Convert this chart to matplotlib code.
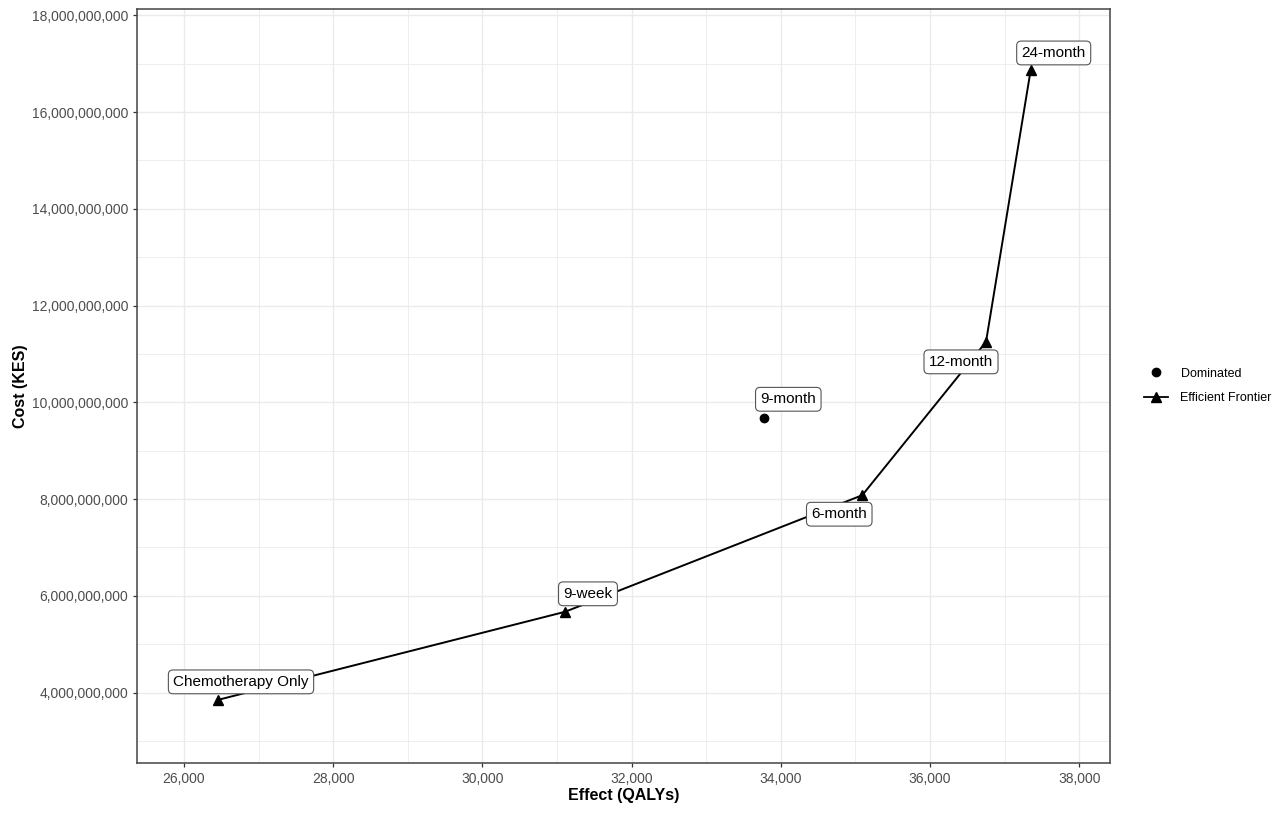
import matplotlib
matplotlib.use("Agg")
import matplotlib.pyplot as plt
from matplotlib.lines import Line2D
from matplotlib.ticker import FuncFormatter, MultipleLocator

plt.rcParams['font.family'] = ['Liberation Sans', 'DejaVu Sans']

# Data
strategies = ["Chemotherapy Only", "9-week", "9-month", "6-month", "12-month", "24-month"]
effect = [26456, 31107, 33779, 35092, 36751, 37350]
cost = [3.85e9, 5.67e9, 9.67e9, 8.08e9, 11.25e9, 16.87e9]
status = ["Efficient Frontier", "Efficient Frontier", "Dominated",
          "Efficient Frontier", "Efficient Frontier", "Efficient Frontier"]
# label offsets (pixels) used by the repelled labels
label_dx = [23, 23, 24, -23, -25, 23]
label_dy = [18, 18, 19, -19, -20, 17]

fig = plt.figure(figsize=(12.8, 8.14), dpi=100)
ax = fig.add_axes([137/1280, 1-763/814, (1110-137)/1280, (763-9)/814])

ax.set_xlim(25370, 38413)
ax.set_ylim(2.545e9, 18.13e9)

ax.xaxis.set_major_locator(MultipleLocator(2000))
ax.xaxis.set_minor_locator(MultipleLocator(1000))
ax.yaxis.set_major_locator(MultipleLocator(2e9))
ax.yaxis.set_minor_locator(MultipleLocator(1e9))
ax.xaxis.set_major_formatter(FuncFormatter(lambda v, p: f"{v:,.0f}"))
ax.yaxis.set_major_formatter(FuncFormatter(lambda v, p: f"{v:,.0f}"))

ax.grid(which='major', color='#EBEBEB', lw=1.0)
ax.grid(which='minor', color='#EBEBEB', lw=0.6)
ax.set_axisbelow(True)
ax.tick_params(which='minor', length=0)
ax.tick_params(which='major', length=3.2, width=0.9, color='#333333',
               labelcolor='#4D4D4D', labelsize=10, pad=3)
for s in ax.spines.values():
    s.set_color('#444444')
    s.set_linewidth(1.1)

fx = [e for e, st in zip(effect, status) if st == "Efficient Frontier"]
fy = [c for c, st in zip(cost, status) if st == "Efficient Frontier"]
dx_ = [e for e, st in zip(effect, status) if st == "Dominated"]
dy_ = [c for c, st in zip(cost, status) if st == "Dominated"]

ax.plot(fx, fy, color='black', lw=1.4, zorder=3)
ax.plot(fx, fy, ls='none', marker='^', ms=7.5, color='black', zorder=4)
ax.plot(dx_, dy_, ls='none', marker='o', ms=6, color='black', zorder=4)

for name, x, y, ox, oy in zip(strategies, effect, cost, label_dx, label_dy):
    ax.annotate(name, xy=(x, y), xytext=(ox, oy), textcoords='offset pixels',
                ha='center', va='center', fontsize=11, color='black', zorder=5,
                bbox=dict(boxstyle='round,pad=0.32,rounding_size=0.3',
                          fc='white', ec='#555555', lw=0.8))

ax.set_xlabel("Effect (QALYs)", fontsize=11.5, fontweight='bold', labelpad=2)
ax.set_ylabel("Cost (KES)", fontsize=11.5, fontweight='bold', labelpad=3)

handles = [
    Line2D([], [], ls='none', marker='o', ms=6, color='black'),
    Line2D([], [], ls='-', lw=1.3, marker='^', ms=7.5, color='black'),
]
fig.legend(handles, ["Dominated", "Efficient Frontier"], loc='center left',
           bbox_to_anchor=(1133/1280, 1-386/814), frameon=False, fontsize=9,
           handlelength=1.9, handletextpad=1.0, labelspacing=1.0)

fig.savefig("out.png", dpi=100)
